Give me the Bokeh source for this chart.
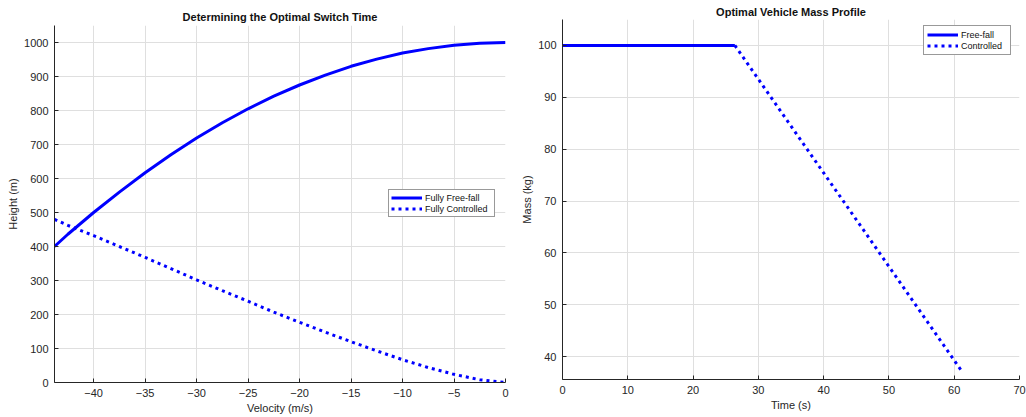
from bokeh.plotting import figure
from bokeh.layouts import row, column
from bokeh.models import Range1d, FixedTicker
from bokeh.embed import file_html
from bokeh.resources import INLINE

# ---- data ----
ff_vel = [-43.8, -42.5, -40, -37.5, -35, -32.5, -30, -27.5, -25, -22.5, -20, -17.5, -15, -12.5, -10, -7.5, -5, -2.5, 0]
ff_height = [400, 436, 500, 560, 617, 670, 719, 764, 805, 842, 875, 904, 930, 951, 969, 982, 992, 998, 1000]
ctrl_vel = [-43.8, -42.5, -40, -37.5, -35, -32.5, -30, -27.5, -25, -22.5, -20, -17.5, -15, -12.5, -10, -7.5, -5, -2.5, 0]
ctrl_height = [480, 462, 432, 400, 368, 335, 302, 270, 239, 207, 177, 148, 120, 93, 67, 44, 24, 8, 0]

mass_ff_time = [0, 26.4]
mass_ff = [100, 100]
mass_ctrl_time = [26.4, 61.0]
mass_ctrl = [100, 37.5]

left_xticks = [-40, -35, -30, -25, -20, -15, -10, -5, 0]
left_yticks = [0, 100, 200, 300, 400, 500, 600, 700, 800, 900, 1000]
right_xticks = [0, 10, 20, 30, 40, 50, 60, 70]
right_yticks = [40, 50, 60, 70, 80, 90, 100]

FONT = "Liberation Sans"
AX = "#262626"
GRID = "#dfdfdf"
BLUE = "#0000ff"


def style(p, xt, yt):
    p.title.align = "center"
    p.title.text_font = FONT
    p.title.text_font_size = "11px"
    p.title.text_font_style = "bold"
    p.title.text_color = "#111111"
    p.outline_line_color = None
    for ax in (p.xaxis[0], p.yaxis[0]):
        ax.axis_line_color = AX
        ax.axis_line_width = 1
        ax.major_tick_line_color = AX
        ax.major_tick_in = 4
        ax.major_tick_out = 0
        ax.minor_tick_line_color = None
        ax.major_label_text_font = FONT
        ax.major_label_text_font_size = "11px"
        ax.major_label_text_color = AX
        ax.axis_label_text_font = FONT
        ax.axis_label_text_font_size = "11px"
        ax.axis_label_text_font_style = "normal"
        ax.axis_label_text_color = AX
        ax.major_label_standoff = 6
        ax.axis_label_standoff = 2
    p.xaxis[0].ticker = FixedTicker(ticks=xt)
    p.yaxis[0].ticker = FixedTicker(ticks=yt)
    p.xgrid.grid_line_color = GRID
    p.ygrid.grid_line_color = GRID
    p.xgrid.ticker = FixedTicker(ticks=xt)
    p.ygrid.ticker = FixedTicker(ticks=yt)
    p.background_fill_color = "white"
    p.border_fill_color = "white"


def style_legend(p, loc, pad, lw):
    lg = p.legend[0]
    lg.location = loc
    lg.label_text_font = FONT
    lg.label_text_font_size = "9px"
    lg.label_text_color = "#111111"
    lg.label_height = 11
    lg.glyph_height = 11
    lg.glyph_width = 31
    lg.label_width = lw
    lg.label_standoff = 3
    lg.spacing = 0
    lg.padding = pad
    lg.margin = 0
    lg.border_line_color = "#333333"
    lg.border_line_width = 1
    lg.background_fill_alpha = 1


p1 = figure(output_backend="svg", toolbar_location=None,
            frame_width=451, frame_height=357,
            min_border_left=54, min_border_right=8, min_border_top=25, min_border_bottom=35,
            x_range=Range1d(-43.8, 0), y_range=Range1d(0, 1050),
            title="Determining the Optimal Switch Time",
            x_axis_label="Velocity (m/s)", y_axis_label="Height (m)")
style(p1, left_xticks, left_yticks)
p1.title.standoff = 5
p1.line(ff_vel, ff_height, line_color=BLUE, line_width=3, legend_label="Fully Free-fall")
p1.line(ctrl_vel, ctrl_height, line_color=BLUE, line_width=3, line_dash="3 4",
        legend_label="Fully Controlled")
style_legend(p1, (334, 165), 2, 67)

p2 = figure(output_backend="svg", toolbar_location=None,
            frame_width=457, frame_height=360,
            min_border_left=49, min_border_right=7, min_border_top=19, min_border_bottom=38,
            x_range=Range1d(0, 70), y_range=Range1d(35.6, 105),
            title="Optimal Vehicle Mass Profile",
            x_axis_label="Time (s)", y_axis_label="Mass (kg)")
style(p2, right_xticks, right_yticks)
p2.title.standoff = 4
p2.line(mass_ff_time, mass_ff, line_color=BLUE, line_width=3, legend_label="Free-fall")
p2.line(mass_ctrl_time, mass_ctrl, line_color=BLUE, line_width=3, line_dash="3 4",
        legend_label="Controlled")
style_legend(p2, (361, 324), 3, 46)

layout = row(column(p1), column(p2))
open("out.html", "w").write(file_html(layout, INLINE))
